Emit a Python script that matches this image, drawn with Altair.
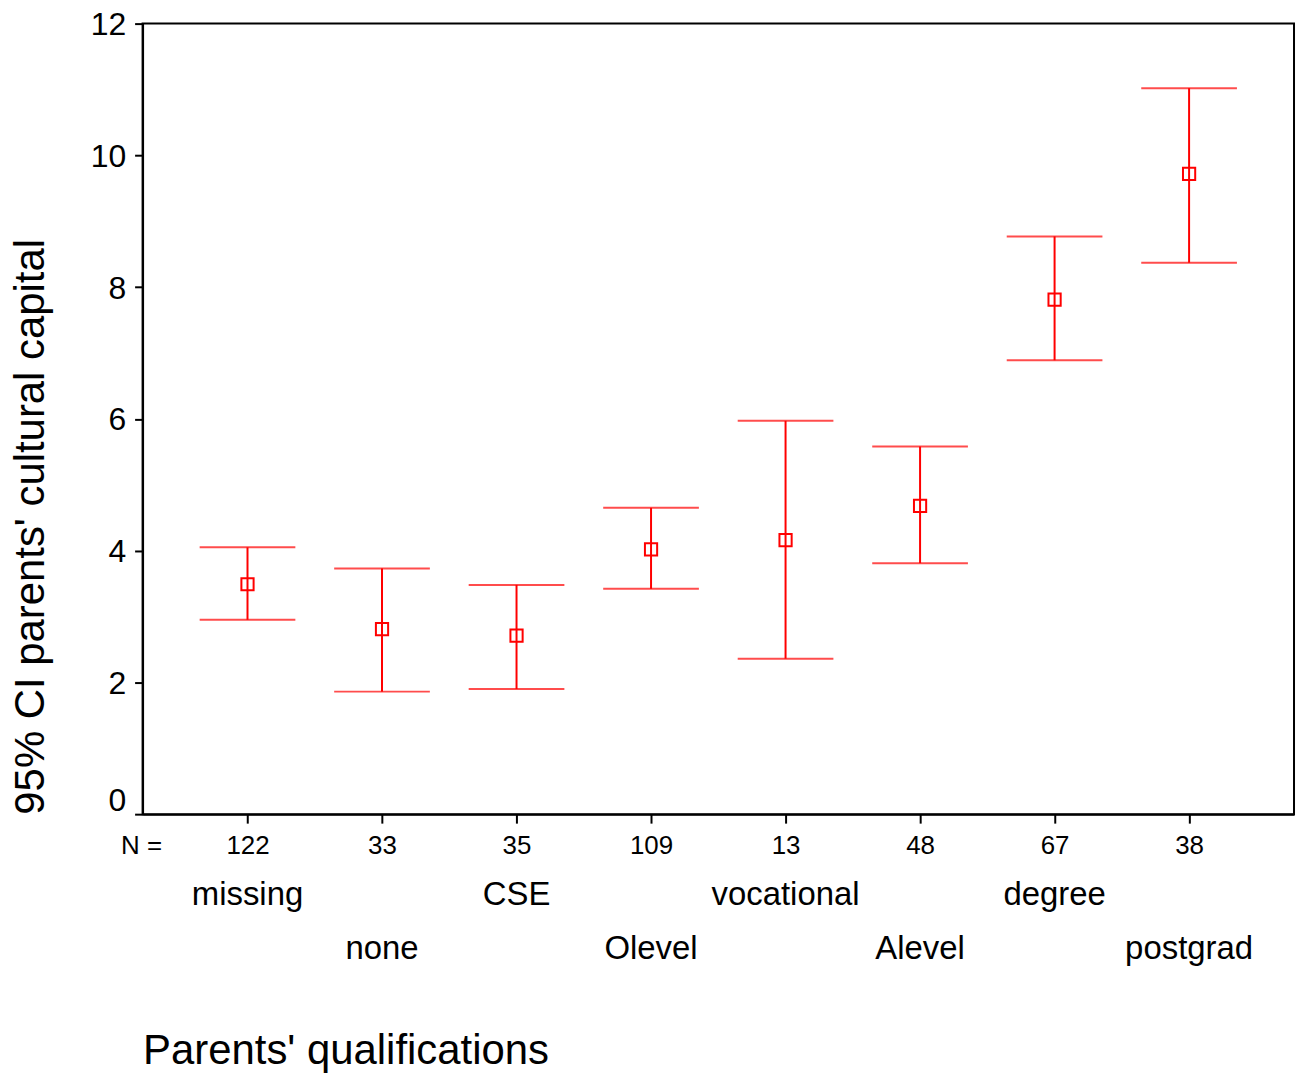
import altair as alt
import pandas as pd

categories = ["missing", "none", "CSE", "Olevel", "vocational", "Alevel", "degree", "postgrad"]
n_values = [122, 33, 35, 109, 13, 48, 67, 38]
means = [3.49, 2.81, 2.71, 4.02, 4.16, 4.68, 7.81, 9.72]
lowers = [2.95, 1.86, 1.90, 3.42, 2.36, 3.81, 6.89, 8.37]
uppers = [4.05, 3.73, 3.48, 4.65, 5.97, 5.58, 8.77, 11.02]
y_ticks = [0, 2, 4, 6, 8, 10, 12]

df = pd.DataFrame({
    "cat": categories,
    "n": n_values,
    "mean": means,
    "lower": lowers,
    "upper": uppers,
    "row": [i % 2 for i in range(len(categories))],
})

RED = "#FF0000"
W, H = 1155, 793
FONT = "Liberation Sans"

cat_list = ",".join(f"'{c}'" for c in categories)
n_list = ",".join(f"'{n}'" for n in n_values)
n_expr = f"[{n_list}][indexof([{cat_list}], datum.value)]"

x_axis = alt.Axis(
    title="Parents' qualifications", labelExpr=n_expr, labelAngle=0,
    labelFontSize=26, labelPadding=9, labelBaseline="top",
    tickSize=9, tickWidth=2, domainWidth=2, grid=False,
    titleX=0, titleY=250, titleAlign="left", titleBaseline="alphabetic",
    titleAnchor="start", titleFontSize=42, titleFontWeight="normal",
)
x_enc = alt.X("cat:N", sort=categories,
              scale=alt.Scale(type="point", padding=0.78), axis=x_axis)

y_axis = alt.Axis(
    values=y_ticks, format="d", labelFontSize=32, tickSize=8, tickWidth=2,
    domainWidth=2, labelPadding=9, grid=False,
    labelBaseline={"condition": {"test": "datum.value == 0", "value": "alphabetic"},
                   "value": "middle"},
    labelOffset={"condition": {"test": "datum.value == 0", "value": -4},
                 "value": 1},
    title="95% CI parents' cultural capital", titleFontSize=42,
    titleFontWeight="normal", titleX=-112, titleY=H, titleAngle=270,
    titleAlign="left", titleBaseline="middle",
)
y_scale = alt.Scale(domain=[0, 12], nice=False)


def y_enc(field):
    return alt.Y(f"{field}:Q", scale=y_scale, axis=y_axis)


base = alt.Chart(df)

rule = base.mark_rule(color=RED, strokeWidth=2).encode(
    x=x_enc, y=y_enc("lower"), y2="upper:Q")
tick_lo = base.mark_tick(color=RED, size=96, thickness=2).encode(
    x=x_enc, y=y_enc("lower"))
tick_hi = base.mark_tick(color=RED, size=96, thickness=2).encode(
    x=x_enc, y=y_enc("upper"))
pts = base.mark_point(shape="square", filled=False, color=RED, size=150,
                      strokeWidth=2, opacity=1).encode(
    x=x_enc, y=y_enc("mean"))

lab0 = base.transform_filter("datum.row == 0").mark_text(
    font=FONT, fontSize=33, baseline="middle", color="black").encode(
    x=x_enc, y=alt.value(874), text="cat:N")
lab1 = base.transform_filter("datum.row == 1").mark_text(
    font=FONT, fontSize=33, baseline="middle", color="black").encode(
    x=x_enc, y=alt.value(928), text="cat:N")

nlab = alt.Chart(pd.DataFrame({"t": ["N ="]})).mark_text(
    font=FONT, fontSize=26, baseline="middle", color="black").encode(
    x=alt.value(-1), y=alt.value(825), text="t:N")

chart = alt.layer(rule, tick_lo, tick_hi, pts, lab0, lab1, nlab).properties(
    width=W, height=H,
    padding={"left": 135, "top": 14, "right": 4, "bottom": 262},
    autosize=alt.AutoSizeParams(type="none"),
    background="white",
).configure_view(stroke="black", strokeWidth=2).configure_axis(
    labelFont=FONT, titleFont=FONT, labelColor="black", titleColor="black",
    domainColor="black", tickColor="black",
)

chart.save("out.html", embed_options={"renderer": "svg", "actions": False})
